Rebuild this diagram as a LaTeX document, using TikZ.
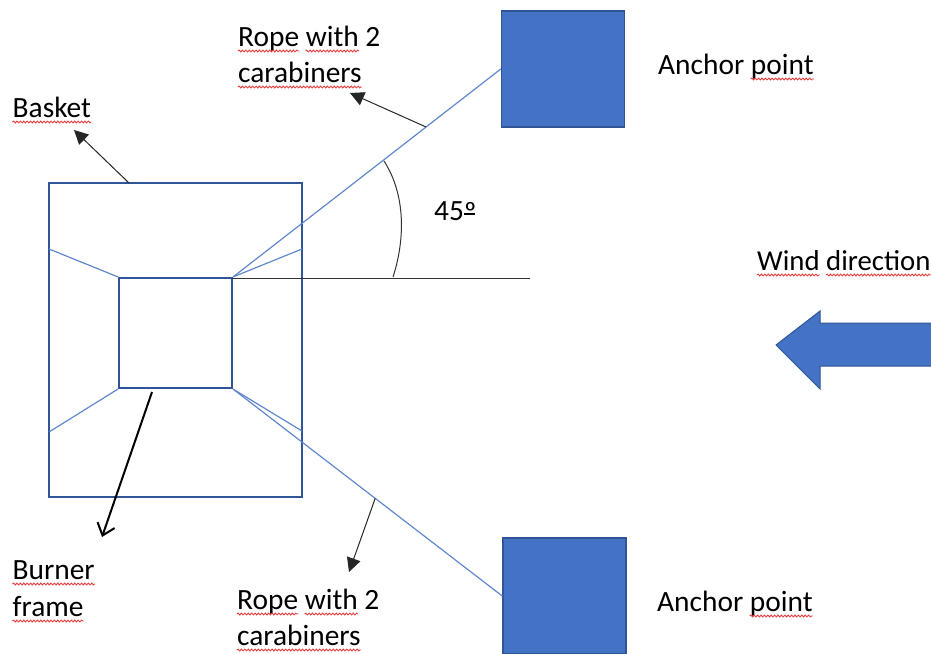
\documentclass[tikz,border=0pt]{standalone}
\usepackage{fontspec}
\setmainfont{Carlito}
\usetikzlibrary{arrows.meta, calc, decorations.pathmorphing}
\definecolor{fillblue}{RGB}{68, 114, 196}
\definecolor{edgeblue}{RGB}{47, 85, 151}
\definecolor{ropeblue}{RGB}{96, 135, 205}
\definecolor{wavered}{RGB}{232, 60, 60}
\newcommand{\spell}[1]{\tikz[baseline=(w.base)]{\node[inner sep=0pt] (w) {#1};
    \draw[overlay, wavered, line width=0.9pt, decorate, decoration={snake, amplitude=0.9pt, segment length=3.4pt}]
    ([yshift=-5pt]w.base west) -- ([yshift=-5pt]w.base east);}}
\newcommand{\ordo}{\rlap{\rule[5.5pt]{11pt}{1.5pt}}\raisebox{-2pt}{º}}

\begin{document}
\begin{tikzpicture}[
    x=1pt, y=-1pt,
    frame/.style={draw=edgeblue, line width=2.2pt, inner sep=0pt},
    anchorbox/.style={draw=edgeblue, fill=fillblue, line width=1.5pt, inner sep=0pt},
    rope/.style={draw=ropeblue, line width=1.2pt},
    pointer/.style={-{Triangle[length=14pt, width=14pt]}, line width=1pt, black!85},
    lbl/.style={anchor=base west, inner sep=0pt, font=\fontsize{29.4}{36}\selectfont, align=left}
]
    \useasboundingbox (0, 0) rectangle (931, 653);
    \clip (0, 0) rectangle (931, 653);

    % Basket and burner frame
    \node[frame, minimum width=253pt, minimum height=314pt] (basket) at (175.5, 340) {};
    \node[frame, minimum width=113pt, minimum height=110pt] (burner) at (175.5, 333) {};

    % Anchors
    \node[anchorbox, minimum width=123pt, minimum height=116pt] (anchortop) at (563, 69) {};
    \node[anchorbox, minimum width=123pt, minimum height=116pt] (anchorbottom) at (564.5, 596) {};

    % Wind arrow
    \coordinate (wind) at (776, 345);
    \fill[fillblue, draw=edgeblue, line width=1pt] (wind) -- (820, 311) -- (820, 323) -- (940, 323)
        -- (940, 366) -- (820, 366) -- (820, 389) -- cycle;

    % Labels
    \node[lbl] (basketlabel) at (12.5, 117) {\spell{Basket}};
    \node[lbl] (ropetoplabel) at (238, 46) {\spell{Rope} \spell{with} 2};
    \node[lbl] (ropetoplabelb) at (238, 82) {\spell{carabiners}};
    \node[lbl] (anchortoplabel) at (658, 74) {Anchor \spell{point}};
    \node[lbl] (anglelabel) at (434, 220) {45\ordo};
    \node[lbl, font=\fontsize{28.8}{36}\selectfont] (windlabel) at (757, 270) {\spell{Wind} \spell{direction}};
    \node[lbl] (burnerlabel) at (12.5, 579) {\spell{Burner}};
    \node[lbl] (burnerlabelb) at (12.5, 616) {\spell{frame}};
    \node[lbl] (ropebottomlabel) at (237, 609) {\spell{Rope} \spell{with} 2};
    \node[lbl] (ropebottomlabelb) at (237, 645) {\spell{carabiners}};
    \node[lbl] (anchorbottomlabel) at (657, 611) {Anchor \spell{point}};

    % Ropes
    \draw[rope] (burner.north east) -- (anchortop.west) coordinate[pos=0.721] (ropetop);
    \draw[rope] (burner.south east) -- (anchorbottom.west) coordinate[pos=0.528] (ropebottom);
    \draw[rope] (burner.north east) -- (302, 249);
    \draw[rope] (burner.north west) -- (49, 249);
    \draw[rope] (burner.south west) -- (49, 432);
    \draw[rope] (burner.south east) -- (302, 431);

    % Angle
    \coordinate (lineend) at (530, 278.5);
    \coordinate (arctop) at (384, 161);
    \coordinate (arcbottom) at (393, 277);
    \draw[black!80, line width=1pt] (232, 278.5) -- (lineend);
    \draw[black!80, line width=1pt] (arctop) .. controls (406, 195) and (405, 240) .. (arcbottom);

    % Pointers
    \coordinate (baskettop) at (129, 183);
    \coordinate (baskettip) at (74, 130);
    \coordinate (ropetip) at (350, 93);
    \coordinate (ropebottomtip) at (349, 572);
    \coordinate (burnerstart) at (152, 392);
    \coordinate (burnertip) at (102, 537);
    \draw[pointer] (baskettop) -- (baskettip);
    \draw[pointer] (ropetop) -- (ropetip);
    \draw[pointer] (ropebottom) -- (ropebottomtip);
    \draw[-{Straight Barb[length=11pt, width=18pt]}, line width=2pt] (burnerstart) -- (burnertip);
\end{tikzpicture}
\end{document}
